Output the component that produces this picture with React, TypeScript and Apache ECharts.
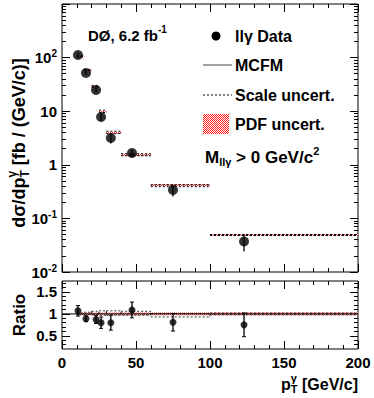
import React, { useEffect, useRef } from 'react';
import * as echarts from 'echarts';

// ---- data ----
const binLo = [10, 15, 20, 25, 30, 40, 60, 100];
const binHi = [15, 20, 25, 30, 40, 60, 100, 200];
const dataX = [10.8, 16.2, 23, 26.4, 33, 47.3, 75, 123];
const dataY = [112, 51.6, 24.9, 7.8, 3.16, 1.66, 0.34, 0.037];
const dataErr = [12.6, 3.8, 2.6, 1.27, 0.67, 0.27, 0.084, 0.013];
const theory = [105, 58, 28.6, 9.75, 3.95, 1.52, 0.42, 0.049];
const ratio = [1.07, 0.89, 0.87, 0.8, 0.8, 1.09, 0.81, 0.75];
const ratioErr = [0.12, 0.065, 0.09, 0.13, 0.17, 0.18, 0.2, 0.27];
const scaleLo = [0.98, 0.98, 0.98, 0.97, 0.97, 0.97, 0.93, 0.98];
const scaleHi = [1.02, 1.04, 1.06, 1.07, 1.07, 1.06, 1.01, 1.02];
const pdfLo = [0.97, 0.97, 0.97, 0.97, 0.97, 0.97, 0.97, 0.97];
const pdfHi = [1.03, 1.03, 1.03, 1.03, 1.03, 1.03, 1.03, 1.03];
const refLine = [[0, 1], [200, 1]];

const logLabels = [0.01, 0.1, 1, 10, 100];
const logMajor = [0.01, 0.1, 1, 10, 100, 1000];
const logMinor = [
  0.02, 0.03, 0.04, 0.05, 0.06, 0.07, 0.08, 0.09,
  0.2, 0.3, 0.4, 0.5, 0.6, 0.7, 0.8, 0.9,
  2, 3, 4, 5, 6, 7, 8, 9,
  20, 30, 40, 50, 60, 70, 80, 90,
  200, 300, 400, 500, 600, 700, 800, 900,
];
const ratioMajor = [0.5, 1, 1.5];
const ratioMinor = [0.3, 0.4, 0.6, 0.7, 0.8, 0.9, 1.1, 1.2, 1.3, 1.4, 1.6, 1.7];

const FONT = '"Liberation Sans", Arial, Helvetica, sans-serif';

function makePattern() {
  const c = document.createElement('canvas');
  c.width = 2;
  c.height = 2;
  const ctx = c.getContext('2d')!;
  ctx.fillStyle = '#ffffff';
  ctx.fillRect(0, 0, 2, 2);
  ctx.fillStyle = '#ff2020';
  ctx.fillRect(0, 0, 1, 1);
  ctx.fillRect(1, 1, 1, 1);
  return { image: c, repeat: 'repeat', imageWidth: 2, imageHeight: 2 } as any;
}

let measureCtx: CanvasRenderingContext2D | null = null;
function tw(t: string, size: number) {
  if (!measureCtx) measureCtx = document.createElement('canvas').getContext('2d');
  measureCtx!.font = `bold ${size}px ${FONT}`;
  return measureCtx!.measureText(t).width;
}

type Piece = { t: string; size: number; dy: number; stack?: boolean };
// build a row of text pieces; pieces with stack=true share x with the previous piece
function row(pieces: Piece[]) {
  let x = 0;
  let lastX = 0;
  let lastW = 0;
  const els: any[] = [];
  for (const p of pieces) {
    const w = tw(p.t, p.size);
    let px = x;
    if (p.stack) {
      px = lastX;
      x = lastX + Math.max(w, lastW);
    } else {
      x = x + w;
    }
    els.push({
      type: 'text',
      x: px,
      y: p.dy,
      style: {
        text: p.t,
        font: `bold ${p.size}px ${FONT}`,
        fill: '#000',
        align: 'left',
        verticalAlign: 'middle',
      },
    });
    lastX = px;
    lastW = w;
  }
  return { els, width: x };
}

function logFmt(v: number) {
  const e = Math.round(Math.log10(v));
  if (e === 0) return '1';
  if (e === 1) return '10';
  return '10{s|' + e + '}';
}

export default function App() {
  const ref = useRef<HTMLDivElement>(null);
  useEffect(() => {
    const chart = echarts.init(ref.current!, null, { renderer: 'svg' });
    const pattern = makePattern();
    const L = 62, R = 16, W = 374 - L - R;
    const tickLabelStyle = { fontFamily: FONT, fontWeight: 'bold' as const, fontSize: 15, color: '#000' };

    const xAx = (gridIndex: number, position: string, labels: boolean) => ({
      type: 'value', gridIndex, position, min: 0, max: 200, interval: 50,
      axisLine: { show: false },
      axisTick: { show: true, inside: true, length: 8, lineStyle: { color: '#000', width: 1 } },
      minorTick: { show: true, splitNumber: 5, length: 4, lineStyle: { color: '#000', width: 1 } },
      splitLine: { show: false },
      axisLabel: { show: labels, ...tickLabelStyle, margin: 6 },
    });
    const yLog = (position: string, ticks: number[], len: number, labels: boolean) => ({
      type: 'log', logBase: 10, gridIndex: 0, position, min: 0.01, max: 1000,
      axisLine: { show: false },
      axisTick: { show: true, inside: true, length: len, customValues: ticks, lineStyle: { color: '#000', width: 1 } },
      splitLine: { show: false },
      axisLabel: {
        show: labels, customValues: logLabels, formatter: logFmt, margin: 5,
        ...tickLabelStyle, lineHeight: 18, verticalAlign: 'middle',
        rich: { s: { fontFamily: FONT, fontWeight: 'bold', fontSize: 10, verticalAlign: 'top', lineHeight: 18, padding: [0, 0, 8, 0] } },
      },
    });
    const yRat = (position: string, ticks: number[], len: number, labels: boolean) => ({
      type: 'value', gridIndex: 1, position, min: 0.2, max: 1.75,
      axisLine: { show: false },
      axisTick: { show: true, inside: true, length: len, customValues: ticks, lineStyle: { color: '#000', width: 1 } },
      splitLine: { show: false },
      axisLabel: { show: labels, customValues: ratioMajor, ...tickLabelStyle, margin: 5 },
    });

    const bandRender = (topPanel: boolean) => (params: any, api: any) => {
      const lo = api.value(0), hi = api.value(1);
      const cen = api.value(2), sL = api.value(3), sH = api.value(4), pL = api.value(5), pH = api.value(6);
      const a = api.coord([lo, pL]);
      const b = api.coord([hi, pH]);
      const yc = api.coord([lo, cen])[1];
      const ysl = api.coord([lo, sL])[1];
      const ysh = api.coord([lo, sH])[1];
      const x1 = a[0], x2 = b[0];
      const children: any[] = [];
      children.push({ type: 'line', shape: { x1, y1: yc, x2, y2: yc }, style: { stroke: '#222', lineWidth: 1 } });
      const h = Math.max(a[1] - b[1], topPanel ? 1.6 : 1);
      children.push({ type: 'rect', shape: { x: x1, y: (a[1] + b[1]) / 2 - h / 2, width: x2 - x1, height: h }, style: { fill: pattern } });
      if (topPanel) {
        children.push({ type: 'line', shape: { x1, y1: ysl, x2, y2: ysl }, style: { stroke: '#000', lineWidth: 1, lineDash: [2, 2] } });
        children.push({ type: 'line', shape: { x1, y1: ysh, x2, y2: ysh }, style: { stroke: '#000', lineWidth: 1, lineDash: [2, 2] } });
      } else {
        children.push({ type: 'rect', shape: { x: x1, y: ysh, width: x2 - x1, height: ysl - ysh }, style: { fill: 'none', stroke: '#000', lineWidth: 0.8, lineDash: [2, 2] } });
      }
      return { type: 'group', children };
    };
    const errRender = (cap: boolean) => (params: any, api: any) => {
      const x = api.value(0), y = api.value(1), e = api.value(2);
      const t = api.coord([x, y + e]);
      const bt = api.coord([x, y - e]);
      const children: any[] = [
        { type: 'line', shape: { x1: t[0], y1: t[1], x2: bt[0], y2: bt[1] }, style: { stroke: '#000', lineWidth: 1.3 } },
      ];
      if (cap) {
        children.push({ type: 'line', shape: { x1: t[0] - 2, y1: t[1], x2: t[0] + 2, y2: t[1] }, style: { stroke: '#000', lineWidth: 1 } });
        children.push({ type: 'line', shape: { x1: bt[0] - 2, y1: bt[1], x2: bt[0] + 2, y2: bt[1] }, style: { stroke: '#000', lineWidth: 1 } });
      }
      return { type: 'group', children };
    };

    const topBand = binLo.map((lo, i) => [lo, binHi[i], theory[i], theory[i] * scaleLo[i], theory[i] * scaleHi[i], theory[i] * pdfLo[i], theory[i] * pdfHi[i]]);
    const ratBand = binLo.map((lo, i) => [lo, binHi[i], 1, scaleLo[i], scaleHi[i], pdfLo[i], pdfHi[i]]);
    const topPts = dataX.map((x, i) => [x, dataY[i]]);
    const topErr = dataX.map((x, i) => [x, dataY[i], dataErr[i]]);
    const ratPts = dataX.map((x, i) => [x, ratio[i]]);
    const ratErr = dataX.map((x, i) => [x, ratio[i], ratioErr[i]]);

    // ---- titles / legend ----
    const yTitle = row([
      { t: 'dσ/dp', size: 18, dy: 0 },
      { t: 'γ', size: 12, dy: -7 },
      { t: 'T', size: 12, dy: 6, stack: true },
      { t: ' [fb / (GeV/c)]', size: 18, dy: 0 },
    ]);
    const xTitle = row([
      { t: 'p', size: 16, dy: 0 },
      { t: 'γ', size: 11, dy: -6 },
      { t: 'T', size: 11, dy: 5, stack: true },
      { t: ' [GeV/c]', size: 16, dy: 0 },
    ]);
    const mTitle = row([
      { t: 'M', size: 17, dy: 0 },
      { t: 'llγ', size: 11, dy: 5 },
      { t: ' > 0 GeV/c', size: 17, dy: 0 },
      { t: '2', size: 11, dy: -6 },
    ]);
    const d0 = row([
      { t: 'DØ, 6.2 fb', size: 15, dy: 0 },
      { t: '-1', size: 10, dy: -6 },
    ]);
    const legText = (t: string, y: number) => ({
      type: 'text', x: 235, y,
      style: { text: t, font: `bold 16px ${FONT}`, fill: '#000', align: 'left', verticalAlign: 'middle' },
    });

    const graphic: any[] = [
      { type: 'group', x: 19, y: 143 + yTitle.width / 2, rotation: Math.PI / 2, children: yTitle.els },
      { type: 'group', x: 358 - xTitle.width, y: 384, children: xTitle.els },
      {
        type: 'text', x: 19, y: 315, rotation: Math.PI / 2,
        style: { text: 'Ratio', font: `bold 17px ${FONT}`, fill: '#000', align: 'center', verticalAlign: 'middle' },
      },
      { type: 'group', x: 88, y: 35, children: d0.els },
      { type: 'circle', shape: { cx: 216, cy: 36, r: 4.5 }, style: { fill: '#000' } },
      legText('llγ Data', 36),
      { type: 'line', shape: { x1: 203, y1: 65, x2: 232, y2: 65 }, style: { stroke: '#444', lineWidth: 1 } },
      legText('MCFM', 65),
      { type: 'line', shape: { x1: 203, y1: 95, x2: 232, y2: 95 }, style: { stroke: '#000', lineWidth: 1, lineDash: [2, 2] } },
      legText('Scale uncert.', 95),
      { type: 'rect', shape: { x: 203, y: 114, width: 26, height: 20 }, style: { fill: pattern } },
      legText('PDF uncert.', 124),
      { type: 'group', x: 205, y: 157, children: mTitle.els },
    ];

    chart.setOption({
      animation: false,
      backgroundColor: '#fff',
      grid: [
        { left: L, top: 4, width: W, height: 268, show: true, borderColor: '#000', borderWidth: 1, backgroundColor: 'transparent' },
        { left: L, top: 281, width: W, height: 68, show: true, borderColor: '#000', borderWidth: 1, backgroundColor: 'transparent' },
      ],
      xAxis: [xAx(0, 'bottom', false), xAx(0, 'top', false), xAx(1, 'bottom', true), xAx(1, 'top', false)],
      yAxis: [
        yLog('left', logMajor, 8, true),
        yLog('left', logMinor, 4, false),
        yLog('right', logMajor, 8, false),
        yLog('right', logMinor, 4, false),
        yRat('left', ratioMajor, 8, true),
        yRat('left', ratioMinor, 4, false),
        yRat('right', ratioMajor, 8, false),
        yRat('right', ratioMinor, 4, false),
      ],
      graphic,
      series: [
        {
          type: 'custom', xAxisIndex: 0, yAxisIndex: 0, data: topBand, renderItem: bandRender(true),
          encode: { x: [0, 1], y: [2, 3, 4, 5, 6] }, clip: true, silent: true,
        },
        {
          type: 'custom', xAxisIndex: 0, yAxisIndex: 0, data: topErr, renderItem: errRender(false),
          encode: { x: 0, y: 1 }, clip: true, silent: true,
        },
        {
          type: 'scatter', xAxisIndex: 0, yAxisIndex: 0, data: topPts, symbol: 'circle', symbolSize: 10,
          itemStyle: { color: '#000' }, silent: true,
        },
        {
          type: 'line', xAxisIndex: 2, yAxisIndex: 4, data: refLine, showSymbol: false, symbol: 'none',
          lineStyle: { color: '#000', width: 1 }, silent: true,
        },
        {
          type: 'custom', xAxisIndex: 2, yAxisIndex: 4, data: ratBand, renderItem: bandRender(false),
          encode: { x: [0, 1], y: [2, 3, 4, 5, 6] }, clip: true, silent: true,
        },
        {
          type: 'custom', xAxisIndex: 2, yAxisIndex: 4, data: ratErr, renderItem: errRender(true),
          encode: { x: 0, y: 1 }, clip: true, silent: true,
        },
        {
          type: 'scatter', xAxisIndex: 2, yAxisIndex: 4, data: ratPts, symbol: 'circle', symbolSize: 7,
          itemStyle: { color: '#000' }, silent: true,
        },
      ],
    });
    return () => chart.dispose();
  }, []);
  return <div ref={ref} style={{ position: 'fixed', left: 0, top: 0, width: 374, height: 398, background: '#fff' }} />;
}
